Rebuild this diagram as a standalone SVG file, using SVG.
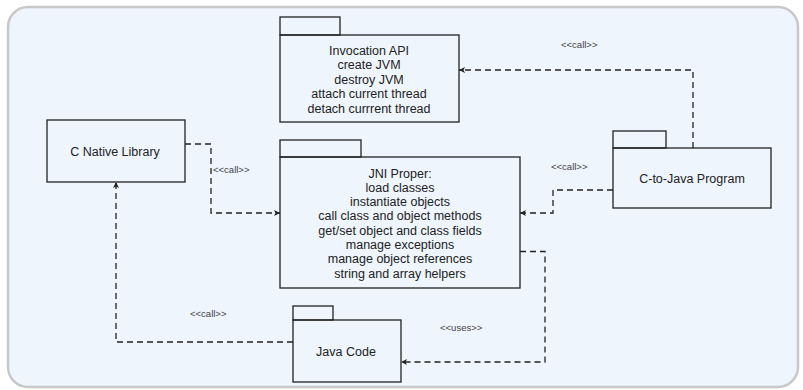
<svg xmlns="http://www.w3.org/2000/svg" width="803" height="390" viewBox="0 0 803 390">
<defs>
<style>
.bx{fill:none;stroke:#222;stroke-width:1.3}
.t{font-family:"Liberation Sans",Arial,sans-serif;font-size:12.5px;fill:#222;text-anchor:middle}
.l{font-family:"Liberation Sans",Arial,sans-serif;font-size:9.5px;fill:#444}
.c{fill:none;stroke:#222;stroke-width:1.3;stroke-dasharray:6,4}
</style>
<marker id="ah" markerWidth="8" markerHeight="8" refX="6" refY="3" orient="auto" markerUnits="userSpaceOnUse">
<path d="M0,0 L6,3 L0,6 L1.5,3 Z" fill="#222"/>
</marker>
</defs>
<rect x="8" y="7" width="790" height="380" rx="20" fill="#eef5fd" stroke="#c8c8c8" stroke-width="2.5"/>
<g id="invocation-api">
<rect class="bx" x="280" y="17" width="60" height="18"/>
<rect class="bx" x="280" y="35" width="179" height="87"/>
<text class="t" x="369" y="54.5">Invocation API</text>
<text class="t" x="369" y="69">create JVM</text>
<text class="t" x="369" y="83.5">destroy JVM</text>
<text class="t" x="369" y="98">attach current thread</text>
<text class="t" x="369" y="112.5">detach currrent thread</text>
</g>
<g id="c-native-library">
<rect class="bx" x="47" y="120" width="138" height="62"/>
<text class="t" x="115" y="155.5">C Native Library</text>
</g>
<g id="jni-proper">
<rect class="bx" x="280" y="140" width="81" height="17"/>
<rect class="bx" x="280" y="157" width="240" height="131"/>
<text class="t" x="400" y="177.5">JNI Proper:</text>
<text class="t" x="400" y="191.8">load classes</text>
<text class="t" x="400" y="206.1">instantiate objects</text>
<text class="t" x="400" y="220.4">call class and object methods</text>
<text class="t" x="400" y="234.7">get/set object and class fields</text>
<text class="t" x="400" y="249">manage exceptions</text>
<text class="t" x="400" y="263.3">manage object references</text>
<text class="t" x="400" y="277.6">string and array helpers</text>
</g>
<g id="c-to-java-program">
<rect class="bx" x="613" y="131" width="53" height="17"/>
<rect class="bx" x="613" y="148" width="158" height="60"/>
<text class="t" x="692" y="182.5">C-to-Java Program</text>
</g>
<g id="java-code">
<rect class="bx" x="293" y="306" width="40" height="14"/>
<rect class="bx" x="293" y="320" width="108" height="62"/>
<text class="t" x="346" y="355.5">Java Code</text>
</g>
<g id="connectors">
<path class="c" d="M185,144 H211 V213 H280" marker-end="url(#ah)"/>
<path class="c" d="M693,148 V70 H459" marker-end="url(#ah)"/>
<path class="c" d="M613,190 H553 V213 H520" marker-end="url(#ah)"/>
<path class="c" d="M520,251.5 H545 V362 H401" marker-end="url(#ah)"/>
<path class="c" d="M293,342 H116 V182" marker-end="url(#ah)"/>
<text class="l" x="213" y="172.5">&lt;&lt;call&gt;&gt;</text>
<text class="l" x="561" y="47.5">&lt;&lt;call&gt;&gt;</text>
<text class="l" x="551" y="169.5">&lt;&lt;call&gt;&gt;</text>
<text class="l" x="440" y="330.5">&lt;&lt;uses&gt;&gt;</text>
<text class="l" x="190" y="316.5">&lt;&lt;call&gt;&gt;</text>
</g>
</svg>
